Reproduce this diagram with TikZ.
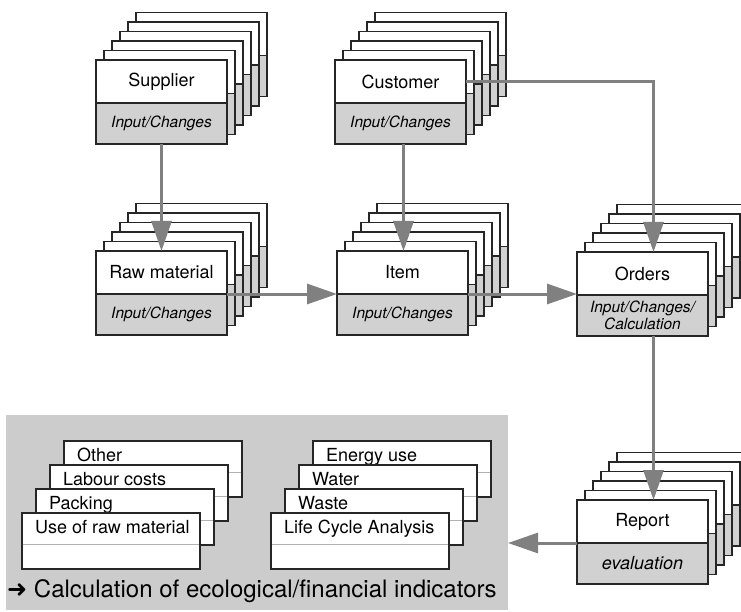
\documentclass[tikz,border=0pt]{standalone}
\usepackage{fontspec}
\setmainfont{TeX Gyre Heros}
\newfontfamily\arrowfont{DejaVu Sans}
\usepackage{tikz}
\usetikzlibrary{positioning}
\usetikzlibrary{arrows.meta}
\tikzset{ card_line/.style = {draw=black!85, line width=1.2pt} }
\tikzset{ card_top/.style = {rectangle, card_line, fill=white, minimum width=131pt, minimum height=43pt, inner sep=0pt, outer sep=0pt, font=\fontsize{18}{20}\selectfont} }
\tikzset{ card_bot/.style = {rectangle, card_line, fill=black!18, minimum width=131pt, minimum height=41pt, inner sep=0pt, outer sep=0pt, align=center, font=\fontsize{15.5}{17.5}\selectfont\itshape} }
\tikzset{ flow/.style = {draw=black!50, line width=3pt, -{Triangle[length=30pt,width=20pt]}} }
\tikzset{ mini_card/.style = {rectangle, card_line, fill=white, minimum width=178pt, minimum height=56pt, inner sep=0pt, outer sep=0pt} }
\tikzset{ mini_text/.style = {anchor=base west, inner sep=0pt, font=\fontsize{18}{20}\selectfont} }
\tikzset{ mini_div/.style = {draw=black!30, line width=0.8pt} }

% five cards behind a front card whose top left corner is (#1,#2)
\newcommand{\backcards}[2]{%
  \foreach \i in {5,4,...,1} {
    \draw[card_line, fill=white] ({#1+8*\i},{#2-9.5*\i}) rectangle ++(131,43);
    \draw[card_line, fill=black!18] ({#1+8*\i},{#2-9.5*\i+43}) rectangle ++(131,41);
  }}

% name, x, y, text
\newcommand{\minicard}[4]{%
  \node[mini_card, anchor=north west] (#1) at (#2,#3) {};
  \draw[mini_div] ([xshift=0.6pt,yshift=-31pt]#1.north west) -- ([xshift=-0.6pt,yshift=-31pt]#1.north east);
  \node[mini_text] (#1-txt) at ([xshift=13pt,yshift=-20pt]#1.north west) {#4};
}

\begin{document}
\begin{tikzpicture}[x=1pt,y=-1pt]
\path[use as bounding box, clip] (0,0) rectangle (741,612);

% top row
\backcards{96}{60}
\node[card_top, anchor=north west] (sup) at (96,60) {Supplier};
\node[card_bot, below=0pt of sup] (supsub) {Input/Changes};
\backcards{335}{60}
\node[card_top, anchor=north west] (cust) at (335,60) {Customer};
\node[card_bot, below=0pt of cust] (custsub) {Input/Changes};

% middle row
\backcards{96}{251}
\node[card_top, anchor=north west] (raw) at (96,251) {Raw material};
\node[card_bot, below=0pt of raw] (rawsub) {Input/Changes};
\backcards{337}{251}
\node[card_top, anchor=north west] (item) at (337,251) {Item};
\node[card_bot, below=0pt of item] (itemsub) {Input/Changes};
\backcards{577}{252}
\node[card_top, anchor=north west] (ord) at (577,252) {Orders};
\node[card_bot, below=0pt of ord] (ordsub) {Input/Changes/\\Calculation};

% report
\backcards{577}{500}
\node[card_top, anchor=north west] (rep) at (577,500) {Report};
\node[card_bot, below=0pt of rep, font=\fontsize{18}{20}\selectfont\itshape] (repsub) {evaluation};

% indicators
\node[fill=black!20, minimum width=502pt, minimum height=195pt, inner sep=0pt, outer sep=0pt, anchor=north west] (panel) at (6,415) {};
\minicard{other}{64}{441}{Other}
\minicard{labour}{50}{465}{Labour costs}
\minicard{packing}{36}{489}{Packing}
\minicard{rawuse}{22}{513}{Use of raw material}
\minicard{energy}{313}{441}{Energy use}
\minicard{water}{299}{465}{Water}
\minicard{waste}{285}{489}{Waste}
\minicard{lca}{271}{513}{Life Cycle Analysis}
\node[anchor=base west, inner sep=0pt, font=\fontsize{24}{28}\selectfont] (calc) at (7,597) {{\arrowfont ➜} Calculation of ecological/financial indicators};

% flows
\draw[flow] (supsub) -- (raw);
\draw[flow] ([xshift=3pt]custsub.south) -- ([xshift=3pt]custsub.south |- item.north);
\draw[flow] (cust.east) -| ([xshift=11pt]ord.north);
\draw[flow] (raw.south east) -- (raw.south east -| item.west);
\draw[flow] (item.south east) -- (item.south east -| ord.west);
\draw[flow] ([xshift=11pt]ordsub.south) -- ([xshift=11pt]rep.north);
\draw[flow] (rep.south west) -- (rep.south west -| panel.east);
\end{tikzpicture}
\end{document}
